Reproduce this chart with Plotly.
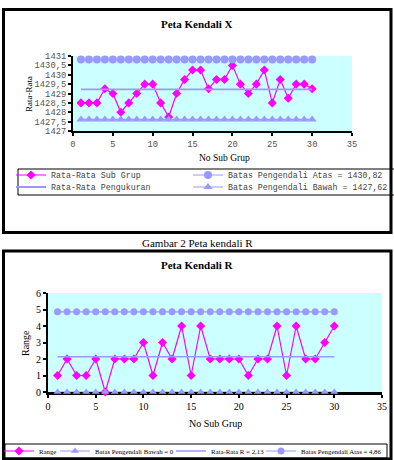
import plotly.graph_objects as go

# ---------------- data ----------------
sub_grup = list(range(1, 31))
rata_sub_grup = [1428.5, 1428.5, 1428.5, 1429.25, 1429.0, 1428.0, 1428.5, 1429.0, 1429.5, 1429.5,
                 1428.5, 1427.75, 1429.0, 1429.75, 1430.25, 1430.25, 1429.25, 1429.75, 1429.75, 1430.5,
                 1429.5, 1429.0, 1429.5, 1430.25, 1428.5, 1429.75, 1428.75, 1429.5, 1429.5, 1429.25]
x_cl, x_ucl, x_lcl = 1429.22, 1430.82, 1427.62

range_vals = [1, 2, 1, 1, 2, 0, 2, 2, 2, 3, 1, 3, 2, 4, 1, 4, 2, 2, 2, 2,
              1, 2, 2, 4, 1, 4, 2, 2, 3, 4]
r_cl, r_ucl, r_lcl = 2.13, 4.86, 0

x_ticks_x = [0, 5, 10, 15, 20, 25, 30, 35]
y_ticks_x = [1427, 1427.5, 1428, 1428.5, 1429, 1429.5, 1430, 1430.5, 1431]
y_ticklabels_x = ["1427", "1427,5", "1428", "1428,5", "1429", "1429,5", "1430", "1430,5", "1431"]
y_ticks_r = [0, 1, 2, 3, 4, 5, 6]

W, H = 394, 460
def px(x): return x / W
def py(y): return 1 - y / H

MAG = "#FF00FF"
LIM = "#9999FF"
MONO = "Liberation Mono, Courier New, monospace"
SERIF = "Liberation Serif, Times New Roman, serif"
TXT_OFF = 42  # distance from legend left edge to its text

fig = go.Figure()
n = len(sub_grup)

def add(x, y, name, color, lw, sym, size, xa, ya, leg, mode="lines+markers"):
    fig.add_trace(go.Scatter(x=x, y=y, mode=mode, name=name,
                             line=dict(color=color, width=lw),
                             marker=dict(symbol=sym, size=size, color=color),
                             xaxis=xa, yaxis=ya, legend=leg, cliponaxis=False))

# ---------- top chart (X) ----------
add(sub_grup, rata_sub_grup, "Rata-Rata Sub Grup", MAG, 1.2, "diamond", 7, "x", "y", "legend")
add(sub_grup, [x_ucl] * n, "Batas Pengendali Atas = 1430,82", LIM, 1.2, "circle", 8, "x", "y", "legend3")
add(sub_grup, [x_cl] * n, "Rata-Rata Pengukuran", LIM, 1.8, "circle", 1, "x", "y", "legend4", mode="lines")
add(sub_grup, [x_lcl] * n, "Batas Pengendali Bawah = 1427,62", LIM, 1.2, "triangle-up", 8, "x", "y", "legend5")

# ---------- bottom chart (R) ----------
add(sub_grup, range_vals, "Range", MAG, 1.2, "diamond", 7, "x2", "y2", "legend2")
add(sub_grup, [r_lcl] * n, "Batas Pengendali Bawah = 0", LIM, 1.2, "triangle-up", 7, "x2", "y2", "legend6")
add(sub_grup, [r_cl] * n, "Rata-Rata R = 2,13", LIM, 1.5, "circle", 1, "x2", "y2", "legend7", mode="lines")
add(sub_grup, [r_ucl] * n, "Batas Pengendali Atas = 4,86", LIM, 1.2, "circle", 7, "x2", "y2", "legend8")

axis_common = dict(showgrid=False, zeroline=False, showline=True, linecolor="black", linewidth=2,
                   ticks="outside", ticklen=3, tickwidth=1.5, tickcolor="black", layer="below traces")

def leg(text_x, cy, font):
    return dict(orientation="h", x=px(text_x - TXT_OFF), y=py(cy), xanchor="left", yanchor="middle",
                borderwidth=0, bgcolor="rgba(0,0,0,0)", itemwidth=30, font=font)

top_font = dict(family=MONO, size=8.3, color="#444444")
bot_font = dict(family=SERIF, size=6.8, color="black")

fig.update_layout(
    width=W, height=H, margin=dict(l=0, r=0, t=0, b=0, autoexpand=False),
    paper_bgcolor="white", plot_bgcolor="#CCFFFF",
    xaxis=dict(axis_common, domain=[px(73), px(352)], range=[0, 35], tickvals=x_ticks_x, anchor="y",
               tickfont=dict(family=MONO, size=8.8, color="#555555")),
    yaxis=dict(axis_common, domain=[py(131), py(56)], range=[1427, 1431], tickvals=y_ticks_x,
               ticktext=y_ticklabels_x, anchor="x",
               tickfont=dict(family=MONO, size=8.8, color="#555555")),
    xaxis2=dict(axis_common, domain=[px(48), px(382)], range=[0, 35], tickvals=x_ticks_x, anchor="y2",
                linewidth=2.5, tickfont=dict(family=SERIF, size=10, color="black")),
    yaxis2=dict(axis_common, domain=[py(392), py(293)], range=[0, 6], tickvals=y_ticks_r, anchor="x2",
                tickfont=dict(family=SERIF, size=10, color="black")),
    legend=leg(53, 175, top_font),
    legend3=leg(230, 175, top_font),
    legend4=leg(53, 187, top_font),
    legend5=leg(230, 187, top_font),
    legend2=leg(41, 451, bot_font),
    legend6=leg(97, 451, bot_font),
    legend7=leg(213, 451, bot_font),
    legend8=leg(303, 451, bot_font),
    showlegend=True,
)

# titles and labels
ann = [
    dict(text="<b>Peta Kendali X</b>", x=px(197), y=py(24), font=dict(family=SERIF, size=11, color="black")),
    dict(text="Rata-Rata", x=px(29), y=py(94), textangle=-90, font=dict(family=SERIF, size=9, color="black")),
    dict(text="No Sub Grup", x=px(224), y=py(158), font=dict(family=SERIF, size=9.5, color="black")),
    dict(text="Gambar 2 Peta kendali R", x=px(197), y=py(243), font=dict(family=SERIF, size=11, color="black")),
    dict(text="<b>Peta Kendali R</b>", x=px(197), y=py(265), font=dict(family=SERIF, size=11, color="black")),
    dict(text="Range", x=px(25), y=py(343), textangle=-90, font=dict(family=SERIF, size=10, color="black")),
    dict(text="No Sub Grup", x=px(215), y=py(423), font=dict(family=SERIF, size=10, color="black")),
]
for a in ann:
    fig.add_annotation(xref="paper", yref="paper", showarrow=False, xanchor="center", yanchor="middle", **a)

# legend boxes
fig.add_shape(type="rect", xref="paper", yref="paper", x0=px(18), x1=px(395), y0=py(169), y1=py(195),
              line=dict(color="black", width=1), layer="below")
fig.add_shape(type="rect", xref="paper", yref="paper", x0=px(5), x1=px(387), y0=py(444), y1=py(458),
              line=dict(color="black", width=1), layer="below")
# frames
fig.add_shape(type="rect", xref="paper", yref="paper", x0=px(3.5), x1=px(391), y0=py(9.5), y1=py(232.5),
              line=dict(color="black", width=3), layer="above")
fig.add_shape(type="rect", xref="paper", yref="paper", x0=px(3.5), x1=px(391), y0=py(251), y1=py(459),
              line=dict(color="black", width=3), layer="above")

fig.write_html("out.html")
